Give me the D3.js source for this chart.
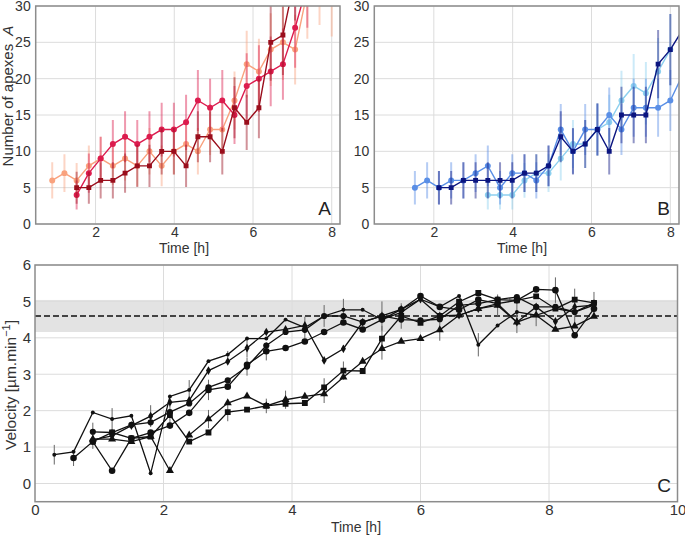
<!DOCTYPE html>
<html><head><meta charset="utf-8">
<script src="https://cdn.jsdelivr.net/npm/d3@7"></script>
<style>body{margin:0;background:#fff}svg{display:block;font-family:"Liberation Sans",Arial,sans-serif}</style>
</head><body><svg id="c" width="685" height="536"></svg>
<script>
// ---------- DATA ----------
const timesAB = [0.90,1.21,1.52,1.83,2.13,2.44,2.75,3.06,3.37,3.68,3.99,4.30,4.60,4.91,5.22,5.53,5.84,6.15,6.45,6.76,7.07,7.38,7.69,8.00,8.31];
// Panel A
const aSalmon    = [6,7,6,8,9,8,9,8,10,8,10,11,10,13,13,17,22,21,24,25,24,32,34,33,null];
const aSalmonErr = [2.5,2.6,2.4,2.8,3,2.6,3,2.8,3.2,2.8,3.2,3.2,3.2,3.5,3.5,4,4.6,4.5,5,5.2,4.8,6.5,6.6,7.2,0];
const aCrimson    = [null,null,4,7,9,11,12,11,12,13,13,14,17,16,17,15,19,20,21,22,27,33,null,null,null];
const aCrimsonErr = [0,0,2,2.7,3,3.3,3.5,3.3,3.5,3.7,3.7,3.8,4.2,4,4.2,4,4.5,4.6,4.8,4.9,5.5,6,0,0,0];
const aDark    = [null,null,5,5,6,6,7,8,8,10,10,8,12,12,10,16,14,16,25,26,34,null,null,null,null];
const aDarkErr = [0,0,2.2,2.2,2.5,2.5,2.7,2.9,2.9,3.2,3.2,2.9,3.5,3.5,3.2,4.2,3.8,4.2,5.3,5.5,6,0,0,0,0];
// Panel B
const bMedium    = [null,null,5,6,5,6,6,7,8,5,7,7,6,8,13,10,13,13,15,13,16,16,16,17,20.5];
const bMediumErr = [0,0,2.3,2.5,2.3,2.5,2.5,2.6,2.8,2.3,2.6,2.6,2.5,2.8,3.5,3.1,3.5,3.5,3.8,3.5,4,4,4,4.2,0];
const bNavy    = [null,null,null,null,5,5,6,6,6,6,6,7,7,8,12,10,11,13,10,15,15,15,22,24,26.7];
const bNavyErr = [0,0,0,0,2.3,2.3,2.5,2.5,2.5,2.5,2.5,2.6,2.6,2.8,3.5,3.2,3.3,3.6,3.2,3.9,3.9,3.9,4.7,4.9,0];
const bLight    = [null,null,null,null,null,null,null,null,4,4,4,6,7,7,9,11,11,13,14,17,19,18,21,24,null];
const bLightErr = [0,0,0,0,0,0,0,0,2,2,2,2.4,2.6,2.6,3,3.3,3.3,3.6,3.8,4.1,4.4,4.3,4.6,4.9,0];
// Panel C
const timesC = [0.3,0.6,0.9,1.2,1.5,1.8,2.1,2.4,2.7,3.0,3.3,3.6,3.9,4.2,4.5,4.8,5.1,5.4,5.7,6.0,6.3,6.6,6.9,7.2,7.5,7.8,8.1,8.4,8.7];
const c1 = [0.79,0.87,1.95,1.77,1.86,0.28,2.39,2.57,3.36,3.54,3.98,3.98,4.50,4.28,4.60,4.77,4.77,4.50,4.70,5.06,4.85,5.15,3.81,4.34,4.71,4.62,4.80,4.71,4.90];
const c1e = [0.27,0,0,0.3,0,0,0,0.27,0,0.1,0,0,0,0.3,0,0.3,0,0,0,0,0,0,0.32,0,0.3,0.3,0,0.3,0];
const c2 = [null,0.70,1.15,0.35,1.24,1.40,1.59,1.94,2.57,2.66,3.26,3.63,3.72,3.90,4.16,4.42,4.23,4.50,4.78,5.15,4.85,4.77,5.05,4.94,5.03,5.33,5.31,4.07,4.80];
const c2e = [0,0.22,0,0,0,0,0,0,0.28,0,0,0.25,0,0,0,0,0,0,0,0,0,0,0,0,0,0,0.35,0,0];
const c3 = [null,null,1.42,1.40,1.61,1.68,1.96,2.20,2.64,2.83,3.21,3.79,4.16,4.22,4.60,4.60,4.43,4.60,4.50,4.48,4.51,4.89,4.94,5.05,5.12,4.85,4.85,4.71,4.96];
const c3e = [0,0,0.25,0,0,0,0,0,0,0,0.25,0,0,0,0.3,0,0,0.4,0,0,0,0,0,0,0,0,0,0,0.3];
const c4 = [null,null,1.15,1.40,1.24,1.29,1.88,1.15,1.40,1.96,2.03,2.13,2.19,2.21,2.64,3.10,3.09,3.98,4.60,4.41,4.60,4.99,5.23,5.05,5.03,5.14,4.80,5.05,4.96];
const c4e = [0,0,0,0,0,0,0.25,0,0,0.25,0,0.2,0,0,0.25,0.25,0,0.35,0.35,0,0,0,0,0,0,0,0,0.3,0];
const c5 = [null,null,1.22,1.22,1.15,1.29,0.35,1.33,1.77,2.21,2.40,2.13,2.30,2.39,2.46,2.92,3.35,3.70,3.90,3.98,4.22,4.62,4.80,4.89,4.43,4.62,4.23,4.32,4.59];
const c5e = [0,0,0,0,0,0,0,0,0.25,0,0,0,0.25,0,0.25,0,0,0.3,0,0,0.3,0,0,0.3,0,0,0,0,0];
const c6 = [null,null,1.20,1.31,1.59,1.85,2.23,2.28,3.10,3.35,3.72,4.16,4.23,4.34,3.38,3.70,4.43,4.60,4.78,5.06,4.60,4.62,4.80,4.94,4.43,4.85,4.45,4.85,4.90];
const c6e = [0,0,0.25,0,0,0.3,0,0,0,0,0.25,0,0,0,0,0.1,0,0,0,0,0,0,0,0,0.3,0,0,0,0];
const refVel = 4.6, refLow = 4.16, refHigh = 5.04;
const ticksAx = [2,4,6,8], ticksAy = [0,5,10,15,20,25,30];
const ticksCx = [0,2,4,6,8,10], ticksCy = [0,1,2,3,4,5,6];

// ---------- DRAW ----------
const svg = d3.select("#c");
const defs = svg.append("defs");
const gridCol = "#dcdcdc", frameCol = "#8c8c8c", txtCol = "#333";
const FONT = '"Liberation Sans",Arial,sans-serif';

function styleAxis(a, fs) {
  a.select(".domain").remove();
  a.selectAll("text").attr("fill", txtCol).style("font-size", fs + "px").style("font-family", FONT);
}
function panel(x, y, xTicks, yTicks, xPad, yPad, fs) {
  const [x0,x1] = x.range(), [y0,y1] = y.range();
  const g = svg.append("g");
  g.selectAll(".gx").data(xTicks.filter(d=>x(d)>x0+1 && x(d)<x1-1)).join("line").attr("x1", d=>x(d)).attr("x2", d=>x(d))
    .attr("y1", y0).attr("y2", y1).attr("stroke", gridCol).attr("stroke-width", 1);
  g.selectAll(".gy").data(yTicks).join("line").attr("y1", d=>y(d)).attr("y2", d=>y(d))
    .attr("x1", x0).attr("x2", x1).attr("stroke", gridCol).attr("stroke-width", 1);
  svg.append("g").attr("transform", `translate(0,${y0})`)
    .call(d3.axisBottom(x).tickValues(xTicks).tickSize(0).tickPadding(xPad).tickFormat(d3.format("d"))).call(styleAxis, fs);
  svg.append("g").attr("transform", `translate(${x0},0)`)
    .call(d3.axisLeft(y).tickValues(yTicks).tickSize(0).tickPadding(yPad).tickFormat(d3.format("d"))).call(styleAxis, fs);
  return g;
}
function clip(id, x, y) {
  const [x0,x1] = x.range(), [y0,y1] = y.range();
  defs.append("clipPath").attr("id", id).append("rect")
    .attr("x", x0).attr("y", y1).attr("width", x1-x0).attr("height", y0-y1);
}
function frame(x, y) {
  const [x0,x1] = x.range(), [y0,y1] = y.range();
  svg.append("rect").attr("x", x0).attr("y", y1).attr("width", x1-x0).attr("height", y0-y1)
    .attr("fill", "none").attr("stroke", frameCol).attr("stroke-width", 1.5);
}
function seriesAB(clipId, x, y, vals, errs, color, shape) {
  const pts = timesAB.map((t,i)=>({t, v: vals[i], e: errs[i]})).filter(d=>d.v!=null);
  const c = svg.append("g").attr("clip-path", `url(#${clipId})`);
  c.selectAll("line.e").data(pts.filter(d=>d.e>0)).join("line")
    .attr("x1", d=>x(d.t)).attr("x2", d=>x(d.t)).attr("y1", d=>y(d.v-d.e)).attr("y2", d=>y(d.v+d.e))
    .attr("stroke", color).attr("stroke-opacity", 0.45).attr("stroke-width", 2);
  c.append("path").datum(pts).attr("d", d3.line().x(d=>x(d.t)).y(d=>y(d.v)))
    .attr("fill", "none").attr("stroke", color).attr("stroke-width", 1.4);
  c.selectAll("path.m").data(pts).join("path")
    .attr("d", d3.symbol().type(shape).size(shape===d3.symbolSquare?24:28))
    .attr("transform", d=>`translate(${x(d.t)},${y(d.v)})`).attr("fill", color);
}

// Panel A
const xA = d3.scaleLinear([0.48, 8.21], [35.7, 340]);
const yA = d3.scaleLinear([0, 30], [224, 6]);
clip("clipA", xA, yA);
panel(xA, yA, ticksAx, ticksAy, 3, 5, 14);
seriesAB("clipA", xA, yA, aSalmon, aSalmonErr, "#f9a27e", d3.symbolCircle);
seriesAB("clipA", xA, yA, aCrimson, aCrimsonErr, "#dc1c4e", d3.symbolCircle);
seriesAB("clipA", xA, yA, aDark, aDarkErr, "#9a0e1c", d3.symbolSquare);
frame(xA, yA);

// Panel B
const xB = d3.scaleLinear([0.49, 8.22], [374.3, 679]);
const yB = d3.scaleLinear([0, 30], [224, 6]);
clip("clipB", xB, yB);
panel(xB, yB, ticksAx, ticksAy, 3, 5, 14);
seriesAB("clipB", xB, yB, bLight, bLightErr, "#8dd0ef", d3.symbolCircle);
seriesAB("clipB", xB, yB, bMedium, bMediumErr, "#5a8fe6", d3.symbolCircle);
seriesAB("clipB", xB, yB, bNavy, bNavyErr, "#0b1580", d3.symbolSquare);
frame(xB, yB);

// Panel C
const xC = d3.scaleLinear([0, 10], [35, 677.5]);
const yC = d3.scaleLinear([-0.5, 6], [501.7, 265]);
clip("clipC", xC, yC);
svg.append("rect").attr("x", xC(0)).attr("width", xC(10)-xC(0))
  .attr("y", yC(refHigh)).attr("height", yC(refLow)-yC(refHigh)).attr("fill", "#e3e3e3");
panel(xC, yC, ticksCx, ticksCy, 3, 4, 15);
svg.append("line").attr("x1", xC(0)).attr("x2", xC(10)).attr("y1", yC(refVel)).attr("y2", yC(refVel))
  .attr("stroke", "#111").attr("stroke-width", 1.6).attr("stroke-dasharray", "6,3");

const shapesC = [[c1,c1e,d3.symbolCircle,12],[c2,c2e,d3.symbolCircle,34],[c3,c3e,d3.symbolCircle,30],
                 [c4,c4e,d3.symbolSquare,34],[c5,c5e,d3.symbolTriangle,28],[c6,c6e,d3.symbolDiamond,22]];
const cg = svg.append("g").attr("clip-path","url(#clipC)");
shapesC.forEach(([vals, errs]) => {
  const pts = timesC.map((t,i)=>({t, v: vals[i], e: errs[i]})).filter(d=>d.v!=null);
  cg.append("g").selectAll("line").data(pts.filter(d=>d.e>0)).join("line")
    .attr("x1", d=>xC(d.t)).attr("x2", d=>xC(d.t)).attr("y1", d=>yC(d.v-d.e)).attr("y2", d=>yC(d.v+d.e))
    .attr("stroke", "#666").attr("stroke-width", 1);
});
shapesC.forEach(([vals, errs, shape, size]) => {
  const pts = timesC.map((t,i)=>({t, v: vals[i]})).filter(d=>d.v!=null);
  cg.append("path").datum(pts).attr("d", d3.line().x(d=>xC(d.t)).y(d=>yC(d.v)))
    .attr("fill","none").attr("stroke","#111").attr("stroke-width",1.3);
  cg.append("g").selectAll("path").data(pts).join("path")
    .attr("d", d3.symbol().type(shape).size(size))
    .attr("transform", d=>`translate(${xC(d.t)},${yC(d.v)})`).attr("fill","#111");
});
frame(xC, yC);

// Texts
const T = (x,y,txt,opts={}) => svg.append("text").attr("x",x).attr("y",y).text(txt)
  .attr("fill", opts.fill||txtCol).attr("text-anchor", opts.anchor||"middle")
  .style("font-size", (opts.size||14)+"px");
T(184, 253, "Time [h]");
T(522, 253, "Time [h]");
T(356, 532, "Time [h]");
const ylA = svg.append("text").attr("transform","translate(13,96) rotate(-90)").attr("text-anchor","middle")
  .attr("fill", txtCol).style("font-size","15px");
ylA.append("tspan").text("Number of apexes ");
ylA.append("tspan").attr("dx", 4).attr("font-style","italic").text("A");
const ylC = svg.append("text").attr("transform","translate(16,385) rotate(-90)").attr("text-anchor","middle")
  .attr("fill", txtCol).style("font-size","15.5px");
ylC.append("tspan").text("Velocity [µm.min");
ylC.append("tspan").attr("dy",-6).style("font-size","11px").text("−1");
ylC.append("tspan").attr("dy",6).text("]");
T(331, 215, "A", {anchor:"end", size:19, fill:"#222"});
T(670, 215, "B", {anchor:"end", size:19, fill:"#222"});
T(671, 492, "C", {anchor:"end", size:19, fill:"#222"});
</script></body></html>
